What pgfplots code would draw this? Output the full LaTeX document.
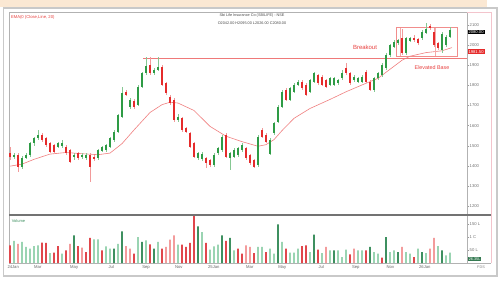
\documentclass[border=0pt]{standalone}
\usepackage{pgfplots}
\pgfplotsset{compat=1.18}
\usepackage{pgfplotstable}
\usepackage{fontspec}
\setmainfont{Liberation Sans}
\definecolor{peach}{HTML}{FBE8D3}
\definecolor{framegray}{HTML}{C9C9C9}
\definecolor{cgreen}{HTML}{2E9B45}
\definecolor{cred}{HTML}{E52B2B}
\definecolor{wgreen}{HTML}{86C893}
\definecolor{wred}{HTML}{F29A9A}
\definecolor{vdg}{HTML}{3E9060}
\definecolor{vlg}{HTML}{9AD4B2}
\definecolor{vrd}{HTML}{E0474C}
\definecolor{vpk}{HTML}{F39C9C}
\definecolor{emac}{HTML}{F08080}
\definecolor{annred}{HTML}{E8403F}
\definecolor{pinkline}{HTML}{F3C4CC}
\pgfplotstableread{
i o h l c
0 1462 1495 1428 1442
1 1445 1462 1435 1455
2 1453 1462 1370 1395
3 1395 1448 1385 1440
4 1440 1465 1432 1455
5 1453 1520 1445 1511
6 1511 1545 1500 1536
7 1536 1578 1528 1553
8 1553 1565 1520 1528
9 1536 1545 1495 1503
10 1511 1520 1462 1470
11 1503 1510 1462 1470
12 1495 1520 1488 1511
13 1500 1530 1490 1515
14 1495 1505 1455 1462
15 1478 1485 1412 1420
16 1442 1462 1430 1453
17 1462 1470 1430 1437
18 1442 1462 1435 1453
19 1437 1462 1430 1453
20 1453 1465 1321 1395
21 1445 1455 1425 1432
22 1437 1485 1430 1478
23 1475 1500 1468 1492
24 1478 1510 1470 1503
25 1495 1545 1488 1536
26 1528 1578 1520 1570
27 1570 1660 1562 1652
28 1644 1793 1636 1760
29 1765 1775 1745 1752
30 1694 1735 1680 1727
31 1720 1730 1680 1690
32 1702 1800 1695 1793
33 1793 1868 1785 1860
34 1860 1939 1850 1896
35 1900 1939 1852 1860
36 1860 1885 1850 1875
37 1877 1939 1870 1893
38 1893 1900 1795 1802
39 1810 1818 1752 1760
40 1744 1752 1702 1710
41 1727 1735 1620 1628
42 1628 1660 1620 1644
43 1636 1645 1570 1578
44 1586 1595 1562 1570
45 1561 1570 1488 1495
46 1511 1520 1437 1445
47 1437 1470 1430 1462
48 1432 1466 1425 1458
49 1437 1445 1387 1412
50 1428 1436 1396 1404
51 1404 1462 1396 1453
52 1462 1494 1455 1486
53 1478 1552 1470 1544
54 1553 1561 1437 1445
55 1437 1470 1379 1462
56 1445 1486 1437 1478
57 1453 1494 1445 1486
58 1478 1511 1470 1503
59 1486 1494 1430 1437
60 1453 1460 1405 1412
61 1428 1435 1387 1395
62 1404 1553 1396 1545
63 1578 1586 1538 1545
64 1553 1561 1512 1520
65 1460 1536 1452 1528
66 1561 1619 1553 1611
67 1619 1702 1611 1694
68 1694 1776 1686 1768
69 1777 1785 1720 1727
70 1727 1793 1720 1785
71 1768 1810 1760 1802
72 1802 1826 1795 1818
73 1818 1826 1778 1785
74 1802 1810 1745 1752
75 1768 1834 1760 1826
76 1818 1868 1810 1860
77 1851 1859 1803 1810
78 1843 1851 1795 1802
79 1826 1834 1786 1793
80 1802 1843 1795 1835
81 1802 1843 1795 1835
82 1810 1834 1802 1826
83 1835 1876 1828 1860
84 1885 1913 1853 1860
85 1860 1868 1803 1810
86 1826 1851 1818 1843
87 1818 1843 1811 1835
88 1818 1851 1811 1843
89 1868 1876 1811 1818
90 1818 1826 1770 1777
91 1777 1843 1769 1835
92 1835 1868 1828 1860
93 1851 1909 1843 1901
94 1885 1959 1877 1951
95 1951 2008 1943 2000
96 1992 2025 1985 2017
97 2009 2033 2002 2025
98 2034 2080 1950 1959
99 1959 2042 1952 2034
100 2022 2042 2015 2034
101 2034 2050 2018 2025
102 2029 2037 2002 2009
103 2034 2075 2027 2067
104 2062 2108 2055 2078
105 2095 2103 2076 2083
106 2067 2085 1993 2000
107 2009 2017 1977 1984
108 1976 2066 1962 2058
109 2000 2050 1993 2042
110 2042 2088 2035 2076
}\candles
\pgfplotstableread{
i v k
0 68 3
1 85 1
2 74 4
3 81 1
4 62 1
5 55 1
6 65 1
7 68 1
8 78 3
9 77 3
10 38 1
11 40 3
12 65 3
13 36 1
14 49 3
15 74 4
16 106 2
17 65 3
18 59 4
19 42 3
20 97 3
21 91 1
22 91 1
23 49 3
24 64 1
25 55 1
26 55 2
27 74 1
28 122 2
29 65 4
30 55 4
31 36 3
32 100 1
33 81 2
34 87 1
35 72 3
36 55 2
37 81 1
38 55 3
39 62 4
40 90 4
41 106 4
42 71 1
43 71 3
44 62 3
45 77 3
46 180 3
47 141 2
48 119 1
49 77 3
50 51 1
51 64 1
52 71 1
53 106 2
54 85 3
55 97 2
56 49 1
57 55 3
58 36 3
59 68 4
60 62 4
61 38 3
62 62 1
63 62 1
64 42 3
65 55 1
66 36 1
67 149 2
68 81 1
69 55 3
70 40 1
71 40 1
72 55 1
73 65 3
74 68 3
75 42 1
76 109 2
77 51 3
78 38 1
79 62 4
80 49 1
81 49 2
82 49 1
83 23 1
84 51 1
85 33 3
86 55 4
87 49 1
88 49 1
89 49 3
90 62 2
91 42 1
92 36 1
93 21 3
94 100 2
95 42 1
96 49 1
97 42 2
98 62 4
99 42 1
100 36 1
101 23 3
102 55 1
103 42 2
104 38 1
105 55 4
106 97 4
107 65 1
108 49 2
109 29 1
110 40 1
}\vols
\begin{document}
\begin{tikzpicture}[x=1bp,y=1bp]
\path[use as bounding box] (0,0) rectangle (500,280);
\fill[white] (0,0) rectangle (500,280);
\fill[peach] (0,273) rectangle (487,280);
\draw[framegray, line width=1.3bp] (3.5,4) rectangle (497,272);
\begin{axis}[
  scale only axis, width=458bp, height=203bp, at={(9bp,65bp)}, anchor=south west,
  xmin=-0.25, xmax=114.25, ymin=1155, ymax=2165,
  xtick=\empty,
  ytick={1200,1300,1400,1500,1600,1700,1800,1900,2000,2100},
  yticklabels={1200,1300,1400,1500,1600,1700,1800,1900,2000,2100},
  ytick pos=right, yticklabel pos=right,
  tick align=outside, major tick length=1.5bp,
  tick style={draw=black!40, line width=0.3bp},
  yticklabel style={font=\fontsize{4.2}{5}\selectfont, text=black!55, inner sep=1bp},
  axis line style={draw=black!30, line width=0.5bp},
  clip=false,
  candle/.style={draw=none, mark=none, forget plot,
    error bars/y dir=both, error bars/y explicit, error bars/error mark=none,
    error bars/error bar style={draw=#1}},
]
% EMA
\addplot[emac, line width=0.6bp, mark=none] coordinates {
(0,1398) (3,1408) (6,1432) (10,1458) (14,1466) (18,1460) (22,1455) (25,1463)
(28,1510) (31,1578) (35,1665) (38,1704) (40,1716) (42,1712) (46,1675) (50,1596)
(54,1547) (58,1520) (62,1497) (64,1505) (66,1530) (68,1575) (71,1636) (75,1685)
(80,1730) (84,1768) (88,1802) (92,1835) (94,1865) (96,1895) (98,1925) (100,1945)
(104,1963) (108,1972) (110.5,1988)};
% breakout line and box
\addplot[annred!70, line width=0.5bp, mark=none] coordinates {(33.25,1933) (114.25,1933)};
\addplot[annred!60, line width=0.5bp, mark=none] coordinates {(96.5,1945) (96.5,2087) (111.75,2087) (111.75,1945) (96.5,1945)};
\addplot[annred!45, line width=0.4bp, mark=none] coordinates {(97.5,1945) (97.5,2087)};
\addplot[annred!45, line width=0.4bp, mark=none] coordinates {(106.25,1945) (106.25,2087)};
% wicks
\addplot[candle=wgreen, error bars/error bar style={line width=0.5bp},
  restrict expr to domain={\thisrow{c}-\thisrow{o}}{0:100000}]
  table[x=i, y expr={(\thisrow{h}+\thisrow{l})/2}, y error expr={(\thisrow{h}-\thisrow{l})/2}] {\candles};
\addplot[candle=wred, error bars/error bar style={line width=0.5bp},
  restrict expr to domain={\thisrow{c}-\thisrow{o}}{-100000:-0.001}]
  table[x=i, y expr={(\thisrow{h}+\thisrow{l})/2}, y error expr={(\thisrow{h}-\thisrow{l})/2}] {\candles};
% bodies
\addplot[candle=cgreen, error bars/error bar style={line width=2.8bp},
  restrict expr to domain={\thisrow{c}-\thisrow{o}}{0:100000}]
  table[x=i, y expr={(\thisrow{o}+\thisrow{c})/2}, y error expr={max(abs(\thisrow{c}-\thisrow{o})/2,3)}] {\candles};
\addplot[candle=cred, error bars/error bar style={line width=2.8bp},
  restrict expr to domain={\thisrow{c}-\thisrow{o}}{-100000:-0.001}]
  table[x=i, y expr={(\thisrow{o}+\thisrow{c})/2}, y error expr={max(abs(\thisrow{c}-\thisrow{o})/2,3)}] {\candles};
% annotations
\node[text=annred, font=\fontsize{6}{7}\selectfont] at (axis cs:88.75,1988) {Breakout};
\node[text=annred, font=\fontsize{5.4}{6}\selectfont] at (axis cs:105.5,1886) {Elevated Base};
\node[anchor=west, text=annred, font=\fontsize{4.2}{5}\selectfont, inner sep=0] at (axis cs:0.2,2140) {EMA(0 (Close,Line, 20)};
\node[text=black!70, font=\fontsize{3.8}{4.5}\selectfont, inner sep=0] at (axis cs:60.5,2145) {Sbi Life Insurance Co (SBILIFE) - NSE};
\node[text=black!70, font=\fontsize{3.8}{4.5}\selectfont, inner sep=0] at (axis cs:60.5,2110) {O2042.00 H2095.00 L2026.00 C2080.00};
\node[anchor=west, fill=black, text=white, font=\fontsize{4.2}{5}\selectfont, inner sep=0.9bp] at (axis cs:114.35,2066) {2080.00};
\node[anchor=west, fill=cred, text=white, font=\fontsize{4.2}{5}\selectfont, inner sep=0.9bp] at (axis cs:114.35,1968) {1981.50};
\end{axis}
\begin{axis}[
  scale only axis, width=458bp, height=48bp, at={(9bp,17bp)}, anchor=south west,
  xmin=-0.25, xmax=114.25, ymin=0, ymax=184.6,
  xtick={0.8,6.95,16.05,25.3,34,42.2,50.95,59.95,68.05,77.8,86.45,95.1,103.7},
  xticklabels={24Jan,Mar,May,Jul,Sep,Nov,25Jan,Mar,May,Jul,Sep,Nov,26Jan},
  xticklabel style={font=\fontsize{4.2}{5}\selectfont, text=black!60, inner sep=1bp},
  ytick={50,100,150}, yticklabels={50 L,1 C,150 L},
  ytick pos=right, yticklabel pos=right,
  tick align=outside, major tick length=1.5bp,
  xtick style={draw=none},
  ytick style={draw=black!40, line width=0.3bp},
  yticklabel style={font=\fontsize{4.2}{5}\selectfont, text=black!55, inner sep=1bp},
  axis line style={draw=black!30, line width=0.5bp},
  clip=false,
]
\addplot[ybar, bar width=1.9bp, fill=vlg, draw=none, restrict expr to domain={\thisrow{k}}{1:1}] table[x=i, y=v] {\vols};
\addplot[ybar, bar width=1.9bp, fill=vdg, draw=none, restrict expr to domain={\thisrow{k}}{2:2}] table[x=i, y=v] {\vols};
\addplot[ybar, bar width=1.9bp, fill=vrd, draw=none, restrict expr to domain={\thisrow{k}}{3:3}] table[x=i, y=v] {\vols};
\addplot[ybar, bar width=1.9bp, fill=vpk, draw=none, restrict expr to domain={\thisrow{k}}{4:4}] table[x=i, y=v] {\vols};
\node[anchor=west, text=vdg, font=\fontsize{4}{5}\selectfont, inner sep=0] at (axis cs:0.4,163) {Volume};
\node[anchor=west, fill=vdg!85!black, text=white, font=\fontsize{3.8}{4.5}\selectfont, inner sep=0.8bp] at (axis cs:114.45,15) {26.35L};
\end{axis}
\draw[black!55, line width=1.2bp] (9,65) -- (491,65);
\draw[pinkline, line width=0.5bp] (491,17) -- (491,268) -- (467,268);
\draw[black!30, line width=0.4bp] (467,17) -- (491,17);
\node[text=black!50, font=\fontsize{3.8}{4.5}\selectfont, inner sep=0] at (481,13) {FDS};
\end{tikzpicture}
\end{document}
